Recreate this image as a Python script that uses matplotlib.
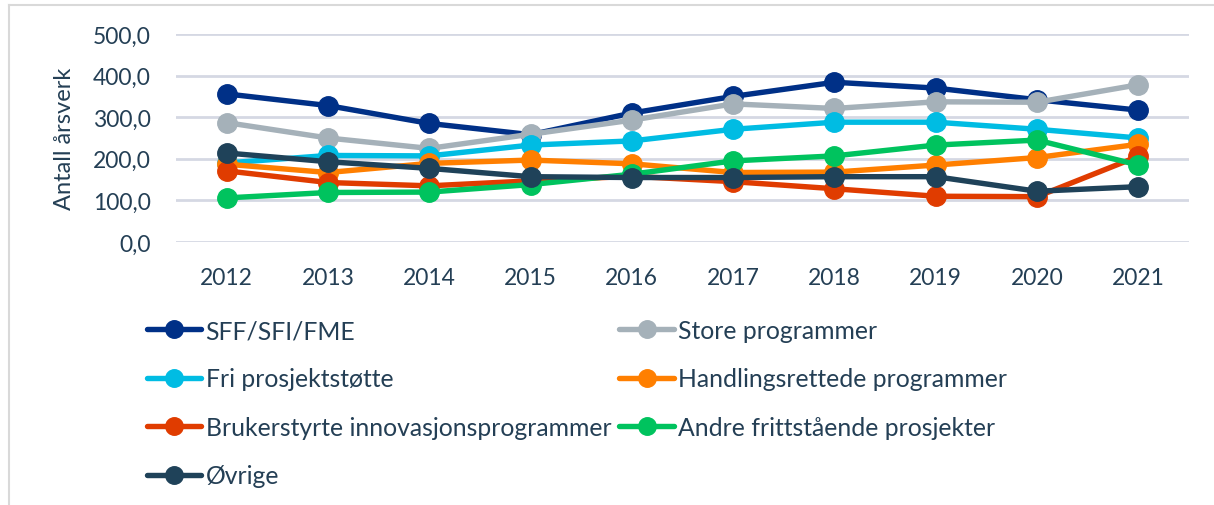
import matplotlib
matplotlib.use("Agg")
import matplotlib.pyplot as plt
from matplotlib.lines import Line2D

years = [2012, 2013, 2014, 2015, 2016, 2017, 2018, 2019, 2020, 2021]

sff = [356, 328, 285, 258, 310, 350, 384, 370, 342, 317]
store = [287, 250, 225, 259, 293, 332, 321, 337, 336, 378]
fri = [190, 208, 207, 233, 243, 271, 288, 288, 271, 250]
handling = [187, 167, 189, 197, 188, 167, 168, 185, 203, 235]
bruker = [171, 143, 135, 147, 158, 145, 128, 110, 109, 206]
andre = [106, 119, 120, 138, 163, 195, 207, 233, 245, 185]
ovrige = [214, 193, 177, 157, 155, 155, 157, 157, 122, 133]

names = ["SFF/SFI/FME", "Store programmer", "Fri prosjektstøtte",
         "Handlingsrettede programmer", "Brukerstyrte innovasjonsprogrammer",
         "Andre frittstående prosjekter", "Øvrige"]
colors = ["#003087", "#A5B1B9", "#00BCE3", "#FF7F00", "#E03C00", "#00C35E", "#1F4259"]
series = [sff, store, fri, handling, bruker, andre, ovrige]

text_col = "#243F55"
plt.rcParams['font.family'] = ['Lato', 'DejaVu Sans']

fig = plt.figure(figsize=(12.14, 5.06), dpi=100)
ax = fig.add_axes([176 / 1214, 1 - 243 / 506, (1189 - 176) / 1214, (243 - 35) / 506])

lines = []
for vals, name, c in zip(series, names, colors):
    ln, = ax.plot(range(len(years)), vals, color=c, lw=3.9, marker='o', ms=14,
                  label=name, clip_on=False, solid_capstyle='round')
    lines.append(ln)

ax.set_xlim(-0.5, len(years) - 0.5)
ax.set_ylim(0, 500)
ax.set_yticks([0, 100, 200, 300, 400, 500])
ax.set_yticklabels([f"{v},0" for v in [0, 100, 200, 300, 400, 500]])
ax.set_xticks(range(len(years)))
ax.set_xticklabels([str(y) for y in years])
ax.tick_params(length=0, labelsize=16.5, colors=text_col)
ax.tick_params(axis='x', pad=18)
ax.tick_params(axis='y', pad=18)
ax.grid(axis='y', color='#D5D8E3', lw=2)
ax.set_axisbelow(True)
for s in ax.spines.values():
    s.set_visible(False)
ax.set_ylabel("Antall årsverk", fontsize=17, color=text_col)
ax.yaxis.set_label_coords(-0.1, 0.5)

# legend ordered row by row like the original
order = [0, 2, 4, 6, 1, 3, 5]
leg = fig.legend([lines[i] for i in order], [names[i] for i in order],
                 ncol=2, loc='upper left', bbox_to_anchor=(147 / 1214, 1 - 320 / 506),
                 frameon=False, fontsize=17.8, handlelength=2.2, handletextpad=0.17,
                 columnspacing=0.33, labelspacing=1.03, labelcolor=text_col,
                 borderpad=0, borderaxespad=0, markerscale=0.9)

# outer chart border
fig.add_artist(Line2D([9 / 1214, 9 / 1214], [0, 1 - 6 / 506], color='#D9D9D9', lw=1.5))
fig.add_artist(Line2D([9 / 1214, 1], [1 - 6 / 506, 1 - 6 / 506], color='#D9D9D9', lw=1.5))

fig.savefig("out.png", dpi=100, facecolor='white')
